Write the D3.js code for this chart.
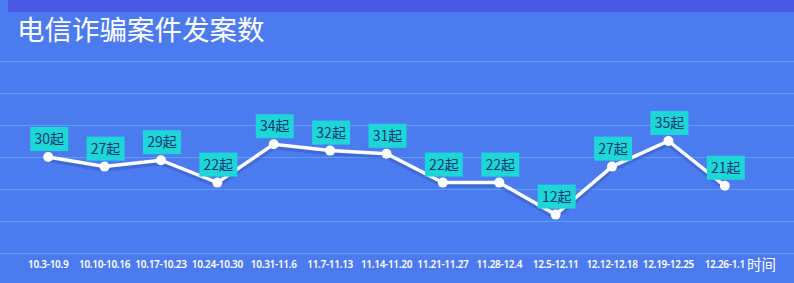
<!DOCTYPE html>
<html>
<head>
<meta charset="utf-8">
<script src="https://cdn.jsdelivr.net/npm/d3@7"></script>
<style>
  html, body { margin: 0; padding: 0; background: #4c7bef; }
  svg { display: block; font-family: "Noto Sans CJK SC", "Noto Sans", sans-serif; }
</style>
</head>
<body>
<div id="chart"></div>
<script>
const categories = ['10.3-10.9', '10.10-10.16', '10.17-10.23', '10.24-10.30', '10.31-11.6', '11.7-11.13',
    '11.14-11.20', '11.21-11.27', '11.28-12.4', '12.5-12.11', '12.12-12.18', '12.19-12.25', '12.26-1.1'];
const cases = [30, 27, 29, 22, 34, 32, 31, 22, 22, 12, 27, 35, 21];
const yTicks = [0, 10, 20, 30, 40, 50, 60];

const width = 794, height = 283;

const svg = d3.select('#chart')
    .append('svg')
    .attr('width', width)
    .attr('height', height);

// darker strip along the top
svg.append('rect')
    .attr('x', 8).attr('y', 0)
    .attr('width', width - 8).attr('height', 12)
    .attr('fill', '#4c58e3');

svg.append('text')
    .attr('x', 17).attr('y', 40)
    .attr('fill', '#ffffff')
    .style('font-size', '27.5px')
    .text('电信诈骗案件发案数');

const x = d3.scaleBand()
    .domain(categories)
    .range([20, 753]);

const y = d3.scaleLinear()
    .domain([0, 60])
    .range([253, 61]);

// grid lines
svg.append('g')
    .selectAll('line')
    .data(yTicks)
    .enter()
    .append('line')
    .attr('x1', 0).attr('x2', width)
    .attr('y1', d => Math.round(y(d)) + 0.5)
    .attr('y2', d => Math.round(y(d)) + 0.5)
    .attr('stroke', '#5b9df7')
    .attr('stroke-width', 1);

// x axis labels
const xAxis = d3.axisBottom(x).tickSize(0).tickPadding(8);
const gx = svg.append('g')
    .attr('transform', `translate(0,${y(0)})`)
    .call(xAxis);
gx.select('.domain').remove();
gx.selectAll('text')
    .attr('fill', '#ffffff')
    .style('font-size', '10px')
    .style('font-weight', '600')
    .style('letter-spacing', '-0.3px')
    .style('font-family', '"Noto Sans", sans-serif');

svg.append('text')
    .attr('x', 747).attr('y', 270)
    .attr('fill', '#ffffff')
    .style('font-size', '14.5px')
    .text('时间');

const cx = d => x(d) + x.bandwidth() / 2;

const line = d3.line()
    .x((d, i) => cx(categories[i]))
    .y(d => y(d));

svg.append('path')
    .datum(cases)
    .attr('d', line)
    .attr('fill', 'none')
    .attr('stroke', 'rgba(30,50,140,0.25)')
    .attr('stroke-width', 6)
    .attr('transform', 'translate(0,2)');

svg.append('path')
    .datum(cases)
    .attr('d', line)
    .attr('fill', 'none')
    .attr('stroke', '#ffffff')
    .attr('stroke-width', 3.5);

svg.append('g')
    .selectAll('circle')
    .data(cases)
    .enter()
    .append('circle')
    .attr('cx', (d, i) => cx(categories[i]))
    .attr('cy', d => y(d))
    .attr('r', 5)
    .attr('fill', '#ffffff');

// value labels with cyan boxes
const labels = svg.append('g')
    .selectAll('g')
    .data(cases)
    .enter()
    .append('g')
    .attr('transform', (d, i) => `translate(${cx(categories[i]) + 1},${y(d) - 6})`);

labels.append('rect')
    .attr('x', -19).attr('y', -24)
    .attr('width', 38).attr('height', 24)
    .attr('fill', '#1cd6d8');

labels.append('text')
    .attr('x', 0).attr('y', -7)
    .attr('text-anchor', 'middle')
    .attr('fill', '#1b3570')
    .style('font-size', '14px')
    .text(d => d + '起');
</script>
</body>
</html>
